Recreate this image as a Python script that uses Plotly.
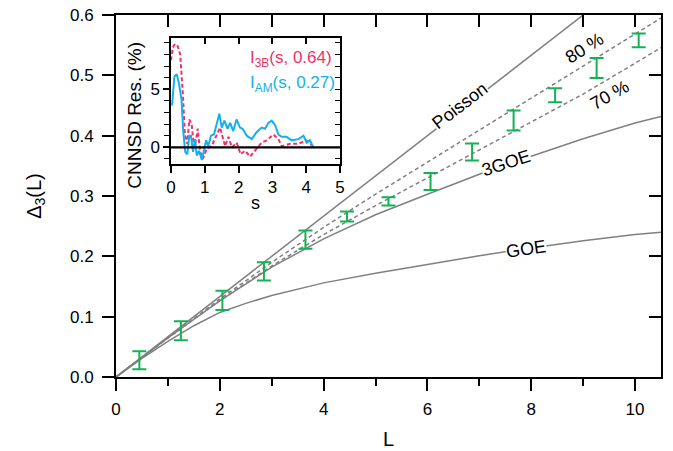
import plotly.graph_objects as go

# ---------------- data ----------------
# measured spectral rigidity with error bars
L_data = [0.45, 1.25, 2.05, 2.85, 3.65, 4.45, 5.25, 6.06, 6.86, 7.66, 8.46, 9.26, 10.07]
D_low = [0.0127, 0.0608, 0.111, 0.160, 0.2125, 0.2578, 0.2843, 0.310, 0.359, 0.4084, 0.4553, 0.4957, 0.5464]
D_high = [0.0425, 0.0922, 0.143, 0.190, 0.243, 0.2743, 0.298, 0.338, 0.387, 0.4416, 0.4785, 0.5288, 0.5695]

# reference curves
L_poisson = [0, 10.5]
D_poisson = [0, 0.70]

L_curve = [0, 1, 2, 3, 4, 5, 6, 7, 8, 9, 10, 10.5]
D_80 = [0, 0.065, 0.129, 0.190, 0.248, 0.303, 0.356, 0.409, 0.462, 0.515, 0.568, 0.595]
D_70 = [0, 0.065, 0.127, 0.184, 0.236, 0.284, 0.330, 0.376, 0.422, 0.469, 0.520, 0.546]
D_3goe = [0, 0.065, 0.126, 0.182, 0.229, 0.269, 0.303, 0.336, 0.366, 0.395, 0.421, 0.432]

L_goe = [0, 0.5, 1, 1.5, 2, 2.5, 3, 4, 5, 6, 7, 8, 9, 10, 10.5]
D_goe = [0, 0.031, 0.059, 0.085, 0.107, 0.122, 0.135, 0.156, 0.172, 0.187, 0.201, 0.214, 0.226, 0.236, 0.240]

# inset: CNNSD residuals
s_3b = [0.0, 0.05, 0.12, 0.2, 0.27, 0.35, 0.41, 0.48, 0.54, 0.61, 0.68, 0.74, 0.79, 0.86, 0.94, 1.06, 1.2,
        1.33, 1.45, 1.6, 1.7, 1.8, 1.94, 2.06, 2.19, 2.34, 2.53, 2.68, 2.83, 3.03, 3.18, 3.27, 3.52,
        3.77, 4.01, 4.19]
r_3b = [7.5, 8.6, 8.9, 8.7, 8.0, 4.6, 1.1, 0.3, 2.4, 2.0, 0.0, 0.6, 1.6, -0.4, -1.0, -0.1, 0.1,
        1.0, 1.7, 0.1, 0.9, 0.0, 0.4, -0.6, -0.3, -0.8, -0.1, 0.4, 0.6, 1.1, 0.7, 0.1, 0.3,
        0.3, 0.6, 0.1]
s_am = [0.03, 0.1, 0.17, 0.24, 0.31, 0.36, 0.42, 0.48, 0.54, 0.59, 0.65, 0.71, 0.76, 0.83, 0.91, 0.98,
        1.04, 1.1, 1.18, 1.27, 1.35, 1.43, 1.5, 1.58, 1.67, 1.75, 1.84, 1.94, 2.04, 2.12, 2.24, 2.39,
        2.53, 2.68, 2.78, 2.88, 2.98, 3.08, 3.18, 3.27, 3.42, 3.57, 3.77, 3.92, 4.01, 4.11, 4.21]
r_am = [3.6, 6.1, 6.3, 5.4, 4.1, 1.4, -0.4, -0.6, 1.0, 1.0, -0.4, 0.7, -0.7, -0.3, -1.1, -0.1,
        0.6, 0.1, 1.0, 1.1, 2.0, 2.9, 1.7, 2.3, 1.6, 2.1, 1.4, 2.4, 1.7, 1.6, 1.0, 0.7,
        1.3, 1.7, 1.6, 2.1, 2.3, 1.9, 1.1, 0.9, 0.9, 0.6, 0.7, 1.0, 0.4, 0.6, 0.0]

D_mid = [(a + b) / 2 for a, b in zip(D_low, D_high)]
D_err = [(b - a) / 2 for a, b in zip(D_low, D_high)]

GRAY = "rgb(128,128,128)"
GREEN = "rgb(20,178,85)"
PINK = "rgb(240,50,105)"
CYAN = "rgb(20,175,240)"
FONT = "Arial, Liberation Sans, sans-serif"

fig = go.Figure()

fig.add_trace(go.Scatter(x=L_goe, y=D_goe, mode="lines", line=dict(color=GRAY, width=1.5), hoverinfo="skip"))
fig.add_trace(go.Scatter(x=L_curve, y=D_3goe, mode="lines", line=dict(color=GRAY, width=1.5), hoverinfo="skip"))
fig.add_trace(go.Scatter(x=L_curve, y=D_70, mode="lines", line=dict(color=GRAY, width=1.5, dash="4px,3px"), hoverinfo="skip"))
fig.add_trace(go.Scatter(x=L_curve, y=D_80, mode="lines", line=dict(color=GRAY, width=1.5, dash="4px,3px"), hoverinfo="skip"))
fig.add_trace(go.Scatter(x=L_poisson, y=D_poisson, mode="lines", line=dict(color=GRAY, width=1.5), hoverinfo="skip"))

fig.add_trace(go.Scatter(
    x=L_data, y=D_mid, mode="markers",
    marker=dict(size=1, color="rgba(0,0,0,0)"),
    error_y=dict(type="data", array=D_err, color=GREEN, thickness=2, width=7),
))

# dummy traces so the mirror axes get drawn
fig.add_trace(go.Scatter(x=[None], y=[None], xaxis="x2", yaxis="y2", hoverinfo="skip"))

# inset traces
fig.add_trace(go.Scatter(x=s_3b, y=r_3b, mode="lines", xaxis="x3", yaxis="y3",
                         line=dict(color=PINK, width=2, dash="4px,2.5px"), hoverinfo="skip"))
fig.add_trace(go.Scatter(x=s_am, y=r_am, mode="lines", xaxis="x3", yaxis="y3",
                         line=dict(color=CYAN, width=2), hoverinfo="skip"))
fig.add_trace(go.Scatter(x=[None], y=[None], xaxis="x4", yaxis="y4", hoverinfo="skip"))

tickfont = dict(family=FONT, size=17, color="black")
common = dict(showgrid=False, zeroline=False, showline=True, linecolor="black",
              tickcolor="black", tickfont=tickfont, automargin=False, ticklabeloverflow="allow")

fig.update_layout(
    width=673, height=451,
    margin=dict(l=108, r=20, t=7, b=82, autoexpand=False),
    paper_bgcolor="white", plot_bgcolor="white",
    showlegend=False,
    font=dict(family=FONT, color="black"),
    xaxis=dict(**common, range=[0, 10.5], tickvals=[0, 2, 4, 6, 8, 10], ticks="outside",
               ticklen=12, tickwidth=1.5, linewidth=2, ticklabelstandoff=4,
               minor=dict(tickvals=[1, 3, 5, 7, 9], ticks="outside", ticklen=7, tickwidth=1.5, tickcolor="black"),
               title=dict(text="L", font=dict(family=FONT, size=20), standoff=14)),
    xaxis2=dict(**common, overlaying="x", side="top", anchor="y", range=[0, 10.5], dtick=1, tick0=0,
                ticks="inside", ticklen=12, tickwidth=1.5, linewidth=2, showticklabels=False),
    yaxis=dict(**common, range=[0, 0.6], dtick=0.1, tickformat=".1f", ticks="outside",
               ticklen=12, tickwidth=1.5, linewidth=2, ticklabelstandoff=5,
               title=dict(text="Δ<sub>3</sub>(L)", font=dict(family=FONT, size=20), standoff=23)),
    yaxis2=dict(**common, overlaying="y", side="right", anchor="x", range=[0, 0.6], dtick=0.1,
                ticks="inside", ticklen=12, tickwidth=1.5, linewidth=2, showticklabels=False),
    xaxis3=dict(**common, domain=[0.101, 0.411], anchor="y3", range=[0, 5], dtick=1, tick0=0,
                ticks="outside", ticklen=7, tickwidth=1.5, linewidth=1.5,
                title=dict(text="s", font=dict(family=FONT, size=18), standoff=0)),
    xaxis4=dict(**common, overlaying="x3", side="top", anchor="y3", range=[0, 5], dtick=1, tick0=0,
                ticks="inside", ticklen=6, tickwidth=1.5, linewidth=1.5, showticklabels=False),
    yaxis3=dict(**common, domain=[0.589, 0.937], anchor="x3", range=[-1.42, 9.43], tickvals=[0, 5],
                ticks="outside", ticklen=6, tickwidth=1.5, linewidth=1.5,
                minor=dict(dtick=1, tick0=0, ticks="outside", ticklen=5, tickwidth=1.2, tickcolor="black")),
    yaxis4=dict(**common, overlaying="y3", side="right", anchor="x3", range=[-1.42, 9.43], dtick=1, tick0=0,
                ticks="inside", ticklen=5, tickwidth=1.2, linewidth=1.5, showticklabels=False),
)

# inset y title (placed lower than the axis centre, as in the reference)
fig.add_annotation(x=0.035, y=0.722, xref="paper", yref="paper", xanchor="center", yanchor="middle",
                   text="CNNSD Res. (%)", textangle=-90, showarrow=False,
                   font=dict(family=FONT, size=19, color="black"))

# zero line of the inset
fig.add_shape(type="line", xref="x3 domain", yref="y3", x0=0, x1=1, y0=0, y1=0,
              line=dict(color="black", width=2.2), layer="above")

# curve labels
lab_font = dict(family=FONT, size=18, color="black")
for txt, lx, ly, ang, bg in [
    ("Poisson", 6.62, 0.449, -37.5, "white"),
    ("3GOE", 7.52, 0.355, -18, "white"),
    ("GOE", 7.9, 0.2126, -8, "white"),
    ("80 %", 9.03, 0.545, -32, "rgba(0,0,0,0)"),
    ("70 %", 9.51, 0.468, -29, "rgba(0,0,0,0)"),
]:
    fig.add_annotation(x=lx, y=ly, xref="x", yref="y", text=txt, showarrow=False,
                       textangle=ang, font=lab_font, bgcolor=bg, borderpad=0)

# inset legend
fig.add_annotation(x=2.28, y=7.6, xref="x3", yref="y3", xanchor="left", showarrow=False,
                   text="I<sub>3B</sub>(s, 0.64)", font=dict(family=FONT, size=17, color=PINK))
fig.add_annotation(x=2.28, y=5.46, xref="x3", yref="y3", xanchor="left", showarrow=False,
                   text="I<sub>AM</sub>(s, 0.27)", font=dict(family=FONT, size=17, color=CYAN))

fig.write_html("out.html")
